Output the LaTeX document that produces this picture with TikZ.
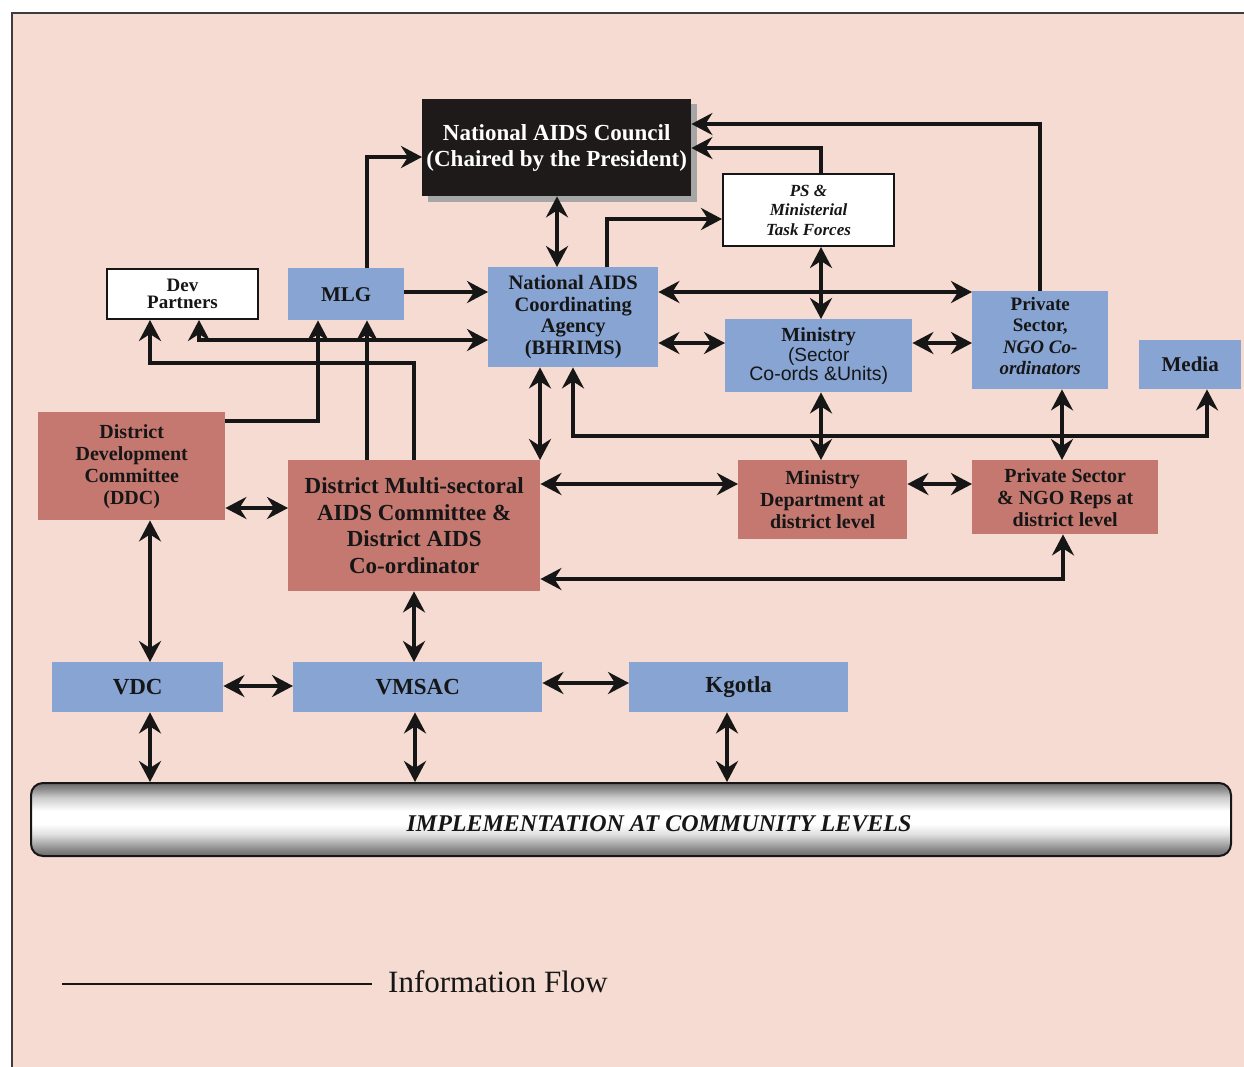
\documentclass[tikz,border=0pt]{standalone}
\usepackage{fontspec}
\setmainfont{Liberation Serif}
\newfontfamily\sansfam{Liberation Sans}
\usetikzlibrary{arrows.meta,shadings,calc}
\definecolor{bgpink}{RGB}{245,219,209}
\definecolor{boxblue}{RGB}{135,164,211}
\definecolor{boxbrown}{RGB}{196,120,112}
\definecolor{nacblack}{RGB}{30,26,25}
\definecolor{shadowgray}{RGB}{166,166,166}
\definecolor{inkc}{RGB}{22,22,22}
\definecolor{framec}{RGB}{60,60,60}
\pgfdeclareverticalshading{cylshade}{100bp}{color(0bp)=(black!58); color(25bp)=(black!58); color(30bp)=(black!45); color(40bp)=(black!12); color(47bp)=(white); color(56bp)=(white); color(65bp)=(black!20); color(71bp)=(black!45); color(75bp)=(black!58); color(100bp)=(black!58)}
\begin{document}
\begin{tikzpicture}[x=1pt,y=-1pt,
  >={Stealth[length=21pt,width=22pt,inset=7pt]},
  flow/.style={line width=3.5pt, draw=inkc, line join=miter},
  box/.style={anchor=north west, inner sep=0pt, align=center, text=inkc},
  bluebox/.style={box, fill=boxblue},
  brownbox/.style={box, fill=boxbrown},
  whitebox/.style={box, fill=white, draw=inkc, line width=2pt},
]
\useasboundingbox (0,0) rectangle (1244,1066);
\clip (0,0) rectangle (1244,1066);
% frame
\fill[white] (0,0) rectangle (1244,1066);
\draw[fill=bgpink, draw=framec, line width=2pt] (12,13) rectangle (1260,1080);

% nodes
\fill[shadowgray] (428,104) rectangle (697,202);
\node[box, fill=nacblack, text=white, minimum width=269pt, minimum height=97pt,
  font=\bfseries\fontsize{23}{26}\selectfont] (NAC) at (422,99)
  {National AIDS Council\\(Chaired by the President)};
\node[whitebox, minimum width=171pt, minimum height=72pt,
  font=\bfseries\itshape\fontsize{17}{19.5}\selectfont] (PS) at (722,173)
  {PS \&\\Ministerial\\Task Forces};
\node[whitebox, minimum width=151pt, minimum height=50pt,
  font=\bfseries\fontsize{19}{17}\selectfont] (Dev) at (106,268)
  {Dev\\Partners};
\node[bluebox, minimum width=116pt, minimum height=52pt,
  font=\bfseries\fontsize{21}{22}\selectfont] (MLG) at (288,268) {MLG};
\node[bluebox, minimum width=170pt, minimum height=100pt,
  font=\bfseries\fontsize{20.5}{21.5}\selectfont] (NACA) at (488,267)
  {National AIDS\\Coordinating\\Agency\\(BHRIMS)};
\node[bluebox, minimum width=187pt, minimum height=73pt] (Min) at (725,319)
  {{\bfseries\fontsize{20}{22}\selectfont Ministry}\\[1pt]
   {\sansfam\fontsize{19}{20}\selectfont (Sector}\\
   {\sansfam\fontsize{19.5}{20}\selectfont Co-ords \&Units)}};
\node[bluebox, minimum width=136pt, minimum height=98pt] (Priv) at (972,291) {};
\node[inner sep=0pt, align=center, text=inkc,
  font=\bfseries\fontsize{19}{21.5}\selectfont] (PrivText) at ($(Priv.center)+(0,-4)$)
  {Private\\Sector,\\\textit{NGO Co-}\\\textit{ordinators}};
\node[bluebox, minimum width=102pt, minimum height=49pt,
  font=\bfseries\fontsize{21}{22}\selectfont] (Media) at (1139,340) {Media};
\node[brownbox, minimum width=187pt, minimum height=108pt,
  font=\bfseries\fontsize{20}{22}\selectfont] (DDC) at (38,412)
  {District\\Development\\Committee\\(DDC)};
\node[brownbox, minimum width=252pt, minimum height=131pt,
  font=\bfseries\fontsize{23}{26.7}\selectfont] (DMSAC) at (288,460)
  {District Multi-sectoral\\AIDS Committee \&\\District AIDS\\Co-ordinator};
\node[brownbox, minimum width=169pt, minimum height=79pt,
  font=\bfseries\fontsize{20}{22}\selectfont] (MinD) at (738,460)
  {Ministry\\Department at\\district level};
\node[brownbox, minimum width=186pt, minimum height=74pt,
  font=\bfseries\fontsize{20}{22}\selectfont] (PSR) at (972,460)
  {Private Sector\\\& NGO Reps at\\district level};
\node[bluebox, minimum width=171pt, minimum height=50pt,
  font=\bfseries\fontsize{23}{24}\selectfont] (VDC) at (52,662) {VDC};
\node[bluebox, minimum width=249pt, minimum height=50pt,
  font=\bfseries\fontsize{23}{24}\selectfont] (VMSAC) at (293,662) {VMSAC};
\node[bluebox, minimum width=219pt, minimum height=50pt,
  font=\bfseries\fontsize{23}{24}\selectfont] (Kgotla) at (629,662) {Kgotla};
\node[box, shading=cylshade, draw=inkc, line width=2pt, rounded corners=12pt,
  minimum width=1200pt, minimum height=73pt] (Bar) at (30,782) {};
\node[font=\bfseries\itshape\fontsize{24}{26}\selectfont, text=inkc, inner sep=0pt]
  (BarText) at (659,824) {IMPLEMENTATION AT COMMUNITY LEVELS};

% connectors
\draw[flow,->] (367,0 |- MLG.north) |- (NAC.west |- 0,157);
\draw[flow,<->] (557,0 |- NAC.south) -- (557,0 |- NACA.north);
\draw[flow,->] (607,0 |- NACA.north) |- (PS.west |- 0,219);
\draw[flow,->] (821,0 |- PS.north) |- (NAC.east |- 0,148);
\draw[flow,->] (1040,0 |- Priv.north) |- (NAC.east |- 0,124);
\draw[flow,<->] (821,0 |- PS.south) -- (821,0 |- Min.north);
\draw[flow,<->] (NACA.east |- 0,292) -- (Priv.west |- 0,292);
\draw[flow,<->] (NACA.east |- 0,343) -- (Min.west |- 0,343);
\draw[flow,<->] (Min.east |- 0,343) -- (Priv.west |- 0,343);
\draw[flow,->] (MLG.east |- 0,292) -- (NACA.west |- 0,292);
\draw[flow,<->] (199,0 |- Dev.south) |- (NACA.west |- 0,340);
\coordinate (dmcorner) at (150,363);
\draw[flow,->] (414,0 |- DMSAC.north) |- (dmcorner) -- (150,0 |- Dev.south);
\draw[flow,->] (DDC.east |- 0,421) -| (318,0 |- MLG.south);
\draw[flow,->] (367,0 |- DMSAC.north) -- (367,0 |- MLG.south);
\draw[flow,<->] (540,0 |- NACA.south) -- (540,0 |- DMSAC.north);
\coordinate (mediacorner) at (1207,436);
\draw[flow,<->] (573,0 |- NACA.south) |- (mediacorner) -- (1207,0 |- Media.south);
\draw[flow,<->] (821,0 |- Min.south) -- (821,0 |- MinD.north);
\draw[flow,<->] (1062,0 |- Priv.south) -- (1062,0 |- PSR.north);
\draw[flow,<->] (DMSAC.east |- 0,484) -- (MinD.west |- 0,484);
\draw[flow,<->] (MinD.east |- 0,484) -- (PSR.west |- 0,484);
\draw[flow,<->] (DMSAC.east |- 0,579) -| (1063,0 |- PSR.south);
\draw[flow,<->] (DDC.east |- 0,508) -- (DMSAC.west |- 0,508);
\draw[flow,<->] (150,0 |- DDC.south) -- (150,0 |- VDC.north);
\draw[flow,<->] (414,0 |- DMSAC.south) -- (414,0 |- VMSAC.north);
\draw[flow,<->] (VDC.east |- 0,686) -- (VMSAC.west |- 0,686);
\draw[flow,<->] (VMSAC.east |- 0,683) -- (Kgotla.west |- 0,683);
\draw[flow,<->] (150,0 |- VDC.south) -- (150,0 |- Bar.north);
\draw[flow,<->] (415,0 |- VMSAC.south) -- (415,0 |- Bar.north);
\draw[flow,<->] (727,0 |- Kgotla.south) -- (727,0 |- Bar.north);

% legend
\coordinate (legA) at (62,984);
\coordinate (legB) at (372,984);
\draw[line width=2.5pt, draw=inkc] (legA) -- (legB);
\node[anchor=west, inner sep=0pt, text=inkc, font=\fontsize{31}{32}\selectfont]
  (legT) at (388,982) {Information Flow};
\end{tikzpicture}
\end{document}
